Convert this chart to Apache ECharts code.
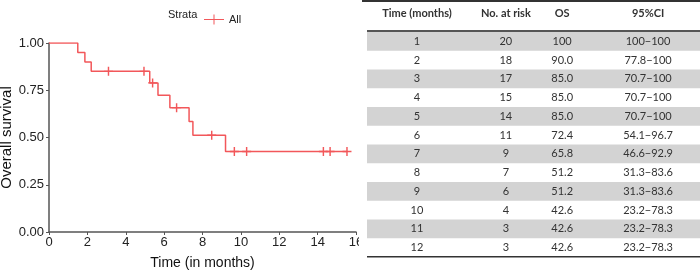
<!DOCTYPE html>
<html>
<head>
<meta charset="utf-8">
<script src="https://cdn.jsdelivr.net/npm/echarts@6/dist/echarts.min.js"></script>
<style>
  html, body { margin: 0; padding: 0; background: #fff; }
  #chart { width: 700px; height: 271px; }
</style>
</head>
<body>
<div id="chart"></div>
<script>
// Kaplan-Meier curve (step points)
const kmTimes = [0, 1.5, 1.87, 2.2, 5.25, 5.68, 6.3, 7.3, 7.5, 9.2, 15.55];
const kmSurv = [1, 0.95, 0.90, 0.85, 0.789, 0.724, 0.658, 0.585, 0.512, 0.426, 0.426];

// censored observations
const censorTimes = [3.1, 4.95, 5.4, 6.65, 8.48, 9.66, 10.3, 14.3, 14.65, 15.53];
const censorSurv = [0.85, 0.85, 0.789, 0.658, 0.512, 0.426, 0.426, 0.426, 0.426, 0.426];

// table
const tableHeader = ['Time (months)', 'No. at risk', 'OS', '95%CI'];
const tableTime = ['1', '2', '3', '4', '5', '6', '7', '8', '9', '10', '11', '12'];
const tableRisk = ['20', '18', '17', '15', '14', '11', '9', '7', '6', '4', '3', '3'];
const tableOS = ['100', '90.0', '85.0', '85.0', '85.0', '72.4', '65.8', '51.2', '51.2', '42.6', '42.6', '42.6'];
const tableCI = ['100\u2212100', '77.8\u2212100', '70.7\u2212100', '70.7\u2212100', '70.7\u2212100', '54.1\u221296.7',
  '46.6\u221292.9', '31.3\u221283.6', '31.3\u221283.6', '23.2\u221278.3', '23.2\u221278.3', '23.2\u221278.3'];

const red = '#F2575A';
const axisGray = '#555555';
const tableFont = 'Lato';
// column centres as fraction of the table width
const colPos = [0.150, 0.417, 0.586, 0.844];

const chart = echarts.init(document.getElementById('chart'));

const kmData = kmTimes.map((t, i) => [t, kmSurv[i]]);
const censorData = censorTimes.map((t, i) => [t, censorSurv[i]]);
const tableCols = [tableTime, tableRisk, tableOS, tableCI];

const option = {
  animation: false,
  textStyle: { fontFamily: 'Liberation Sans' },
  legend: {
    left: 199,
    top: 9,
    itemWidth: 20,
    itemHeight: 10,
    itemGap: 5,
    icon: 'path://M0,9h40v2H0z M19,0h2v20h-2z',
    textStyle: { fontSize: 11, color: '#222', fontFamily: 'Liberation Sans' },
    data: [{ name: 'All', itemStyle: { color: red } }]
  },
  grid: [
    { left: 49, top: 43, width: 307, height: 189, outerBoundsMode: 'none' },
    { left: 367, top: 32, right: 0, height: 225, outerBoundsMode: 'none' }
  ],
  xAxis: [
    {
      gridIndex: 0,
      type: 'value',
      min: 0,
      max: 16,
      interval: 2,
      name: 'Time (in months)',
      nameLocation: 'middle',
      nameGap: 24,
      nameMoveOverlap: false,
      nameTextStyle: { fontSize: 14, color: '#111' },
      axisLine: { lineStyle: { color: axisGray, width: 1.5 } },
      axisTick: { length: 3, lineStyle: { color: axisGray } },
      axisLabel: { fontSize: 13, color: '#222', margin: 4, showMaxLabel: true },
      splitLine: { show: false }
    },
    {
      gridIndex: 1,
      type: 'value',
      min: 0,
      max: 1,
      show: false
    }
  ],
  yAxis: [
    {
      gridIndex: 0,
      type: 'value',
      min: 0,
      max: 1,
      interval: 0.25,
      name: 'Overall survival',
      nameLocation: 'middle',
      nameGap: 35,
      nameMoveOverlap: false,
      nameTextStyle: { fontSize: 15, color: '#111' },
      axisLine: { show: true, lineStyle: { color: axisGray, width: 1.5 } },
      axisTick: { show: true, length: 3, lineStyle: { color: axisGray } },
      axisLabel: { fontSize: 13, color: '#222', margin: 5, formatter: v => v.toFixed(2) },
      splitLine: { show: false }
    },
    {
      gridIndex: 1,
      type: 'category',
      data: tableTime,
      inverse: true,
      show: false
    }
  ],
  graphic: [
    {
      type: 'text', left: 168, top: 9,
      style: { text: 'Strata', fontSize: 11, fill: '#222', fontFamily: 'Liberation Sans' }
    },
    // table panel edge (clips the last x label like the original composite)
    { type: 'rect', z: 100, shape: { x: 359, y: 0, width: 8, height: 271 }, style: { fill: '#fff' } },
    // table rules
    { type: 'rect', z: 101, shape: { x: 362, y: 0, width: 338, height: 2 }, style: { fill: '#333' } },
    { type: 'rect', z: 101, shape: { x: 367, y: 30, width: 333, height: 2 }, style: { fill: '#555' } },
    { type: 'rect', z: 101, shape: { x: 367, y: 256, width: 333, height: 1.5 }, style: { fill: '#333' } }
  ].concat(tableHeader.map((h, i) => ({
    type: 'text',
    x: 367 + colPos[i] * 333,
    y: 13,
    style: {
      text: h, fontSize: 11, fontWeight: 'bold', fill: '#333',
      fontFamily: tableFont, align: 'center', verticalAlign: 'middle'
    }
  }))),
  series: [
    {
      name: 'All',
      type: 'line',
      xAxisIndex: 0,
      yAxisIndex: 0,
      step: 'end',
      data: kmData,
      showSymbol: false,
      color: red,
      lineStyle: { width: 1.5, color: red }
    },
    {
      name: 'All',
      type: 'scatter',
      xAxisIndex: 0,
      yAxisIndex: 0,
      data: censorData,
      symbol: 'path://M4.2,0h1.6v10h-1.6z M0,4.2h10v1.6H0z',
      symbolSize: 9,
      itemStyle: { color: red, opacity: 1 }
    },
    {
      type: 'custom',
      xAxisIndex: 1,
      yAxisIndex: 1,
      data: tableTime.map(t => [0, t]),
      encode: { x: 0, y: 1 },
      renderItem: (params, api) => {
        const row = params.dataIndex;
        const left = api.coord([0, row]);
        const right = api.coord([1, row]);
        const h = api.size([0, 1])[1];
        const children = [];
        if (row % 2 === 0) {
          children.push({
            type: 'rect',
            shape: { x: left[0], y: left[1] - h / 2, width: right[0] - left[0], height: h },
            style: { fill: '#d3d3d3' }
          });
        }
        colPos.forEach((p, c) => {
          const pt = api.coord([p, row]);
          children.push({
            type: 'text',
            x: pt[0],
            y: pt[1],
            style: {
              text: tableCols[c][row],
              fontSize: 11,
              fill: '#333',
              fontFamily: tableFont,
              align: 'center',
              verticalAlign: 'middle'
            }
          });
        });
        return { type: 'group', children };
      }
    }
  ]
};

chart.setOption(option);
</script>
</body>
</html>
